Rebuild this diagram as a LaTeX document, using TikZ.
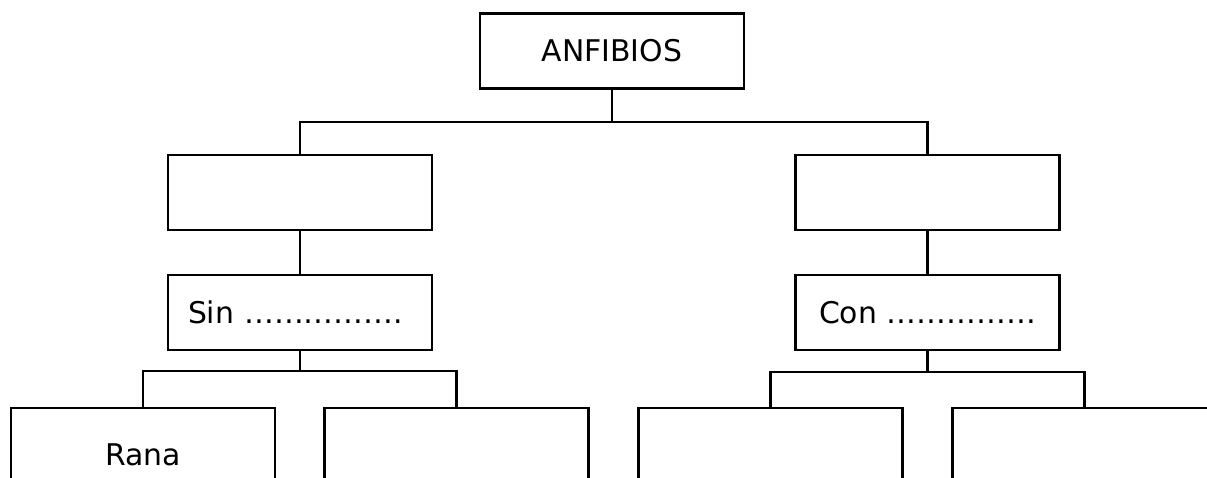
\documentclass[tikz,border=0pt]{standalone}
\usepackage{fontspec}
\setmainfont{DejaVu Sans}
\usepackage{tikz}

\begin{document}
\begin{tikzpicture}[
    x=0.02cm, y=-0.02cm,
    line width=1.2pt,
    box/.style={rectangle, draw=black, minimum width=5.28cm, minimum height=1.5cm, inner sep=0pt, font=\fontsize{17}{20}\selectfont},
    leftbox/.style={box, align=left, text width=4.48cm, inner xsep=0.4cm},
    leafbox/.style={box, minimum height=1.88cm}
]

% Frame and clip
\useasboundingbox (0,0) rectangle (1207,477);
\clip (0,0) rectangle (1207,477);

% Top box
\node[box] (anfibios) at (612,51) {ANFIBIOS};

% Second level
\node[box] (lmid) at (300,192.5) {};
\node[box] (rmid) at (927.5,192.5) {};

% Third level
\node[leftbox] (sin) at (300,312.5) {Sin \ldots\ldots\ldots\ldots\ldots.};
\node[box] (con) at (927.5,312.5) {Con \ldots\ldots\ldots\ldots\ldots};

% Leaves
\node[leafbox] (rana) at (143,455) {Rana};
\node[leafbox] (leafb) at (456.5,455) {};
\node[leafbox] (leafc) at (770.5,455) {};
\node[leafbox] (leafd) at (1084.5,455) {};

% Junction points
\coordinate (jtop) at (612,122);
\coordinate (jsin) at (300,371);
\coordinate (jcon) at (927.5,372);

% Connectors
\draw (anfibios.south) -- (jtop);
\draw (lmid.north) |- (jtop);
\draw (rmid.north) |- (jtop);
\draw (lmid.south) -- (sin.north);
\draw (rmid.south) -- (con.north);
\draw (sin.south) -- (jsin);
\draw (rana.north) |- (jsin);
\draw (leafb.north) |- (jsin);
\draw (con.south) -- (jcon);
\draw (leafc.north) |- (jcon);
\draw (leafd.north) |- (jcon);

\end{tikzpicture}
\end{document}
